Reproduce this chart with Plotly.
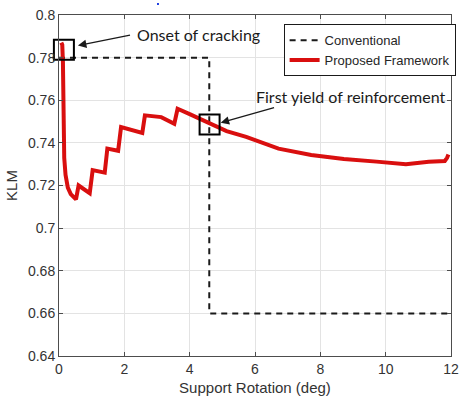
import plotly.graph_objects as go

# Conventional step model
conv_x = [0.0, 4.6, 4.6, 12.0]
conv_klm = [0.78, 0.78, 0.66, 0.66]

# Proposed framework response
prop_x = [0.07, 0.10, 0.12, 0.13, 0.14, 0.16, 0.20, 0.27, 0.36, 0.52, 0.60, 0.94, 1.03,
          1.40, 1.48, 1.81, 1.90, 2.20, 2.55, 2.63, 3.13, 3.53, 3.63, 4.00, 4.60,
          5.13, 5.73, 6.72, 7.72, 8.72, 9.72, 10.62, 11.32, 11.81, 11.88, 11.92]
prop_klm = [0.787, 0.786, 0.778, 0.760, 0.745, 0.733, 0.725, 0.719, 0.716, 0.7135, 0.7200,
            0.7164, 0.7272, 0.7260, 0.7373, 0.7363, 0.7474, 0.7462, 0.7447, 0.7529,
            0.7521, 0.7490, 0.7560, 0.7535, 0.7490, 0.7455, 0.7428, 0.7373, 0.7343,
            0.7324, 0.7312, 0.7300, 0.7311, 0.7315, 0.7330, 0.7345]

# Event markers
event_x = [0.15, 4.61]
event_klm = [0.7837, 0.7486]
event_labels = ["Onset of cracking", "First yield of reinforcement"]

x_ticks = [0, 2, 4, 6, 8, 10, 12]
y_ticks = [0.64, 0.66, 0.68, 0.70, 0.72, 0.74, 0.76, 0.78, 0.80]
y_tick_text = ["0.64", "0.66", "0.68", "0.7", "0.72", "0.74", "0.76", "0.78", "0.8"]

fig = go.Figure()
fig.add_trace(go.Scatter(
    x=conv_x, y=conv_klm, mode="lines", name="Conventional",
    line=dict(color="#1a1a1a", width=2, dash="6px,5px"),
))
fig.add_trace(go.Scatter(
    x=prop_x, y=prop_klm, mode="lines", name="Proposed Framework",
    line=dict(color="#d90f0f", width=4),
))
fig.add_trace(go.Scatter(
    x=event_x, y=event_klm, mode="markers", showlegend=False, cliponaxis=False,
    marker=dict(symbol="square-open", size=20, color="black", line=dict(width=2, color="black")),
))

text_font = dict(family="Lato", size=16, color="#1a1a1a")
# arrows from the labels to the event markers
arrows = [((0.58, 0.7857), (2.22, 0.7907)), ((4.95, 0.7494), (6.63, 0.7567))]
for (hx, hy), (tx, ty) in arrows:
    fig.add_annotation(x=hx, y=hy, ax=tx, ay=ty, xref="x", yref="y", axref="x", ayref="y",
                       text="", showarrow=True, arrowhead=2, arrowsize=1.3, arrowwidth=1.3,
                       arrowcolor="#1a1a1a")
fig.add_annotation(x=2.34, y=0.7908, xref="x", yref="y", text=event_labels[0], showarrow=False,
                   xanchor="left", yanchor="middle", font=text_font)
fig.add_annotation(x=5.96, y=0.7617, xref="x", yref="y", text=event_labels[1], showarrow=False,
                   xanchor="left", yanchor="middle", font=text_font)

# small blue mark at the top edge
fig.add_shape(type="line", xref="paper", yref="paper",
              x0=(159 - 59) / 400, x1=(161 - 59) / 400,
              y0=1 + (12 - 1) / 344, y1=1 + (12 - 1) / 344,
              line=dict(color="#1f3fe0", width=2))

axis_common = dict(
    showgrid=True, gridcolor="#e3e3e3", gridwidth=1,
    showline=True, linecolor="#4d4d4d", linewidth=1, mirror="ticks",
    ticks="inside", ticklen=4, tickcolor="#4d4d4d", zeroline=False,
    tickfont=dict(family="Liberation Sans", size=14, color="#333333"),
)
fig.update_xaxes(range=[0, 12], tickvals=x_ticks,
                 title=dict(text="Support Rotation (deg)", standoff=6,
                            font=dict(family="Liberation Sans", size=15, color="#333333")),
                 **axis_common)
fig.update_yaxes(range=[0.64, 0.8], tickvals=y_ticks, ticktext=y_tick_text,
                 title=dict(text="KLM", standoff=6,
                            font=dict(family="Liberation Sans", size=15, color="#333333")),
                 **axis_common)

fig.update_layout(
    width=466, height=409,
    margin=dict(l=59, r=7, t=12, b=53),
    paper_bgcolor="white", plot_bgcolor="white",
    showlegend=True,
    legend=dict(x=0.573, y=0.973, xanchor="left", yanchor="top",
                bgcolor="white", bordercolor="#1a1a1a", borderwidth=1,
                font=dict(family="Liberation Sans", size=13, color="#262626"),
                tracegroupgap=0, itemwidth=30),
)

fig.write_html("out.html")
